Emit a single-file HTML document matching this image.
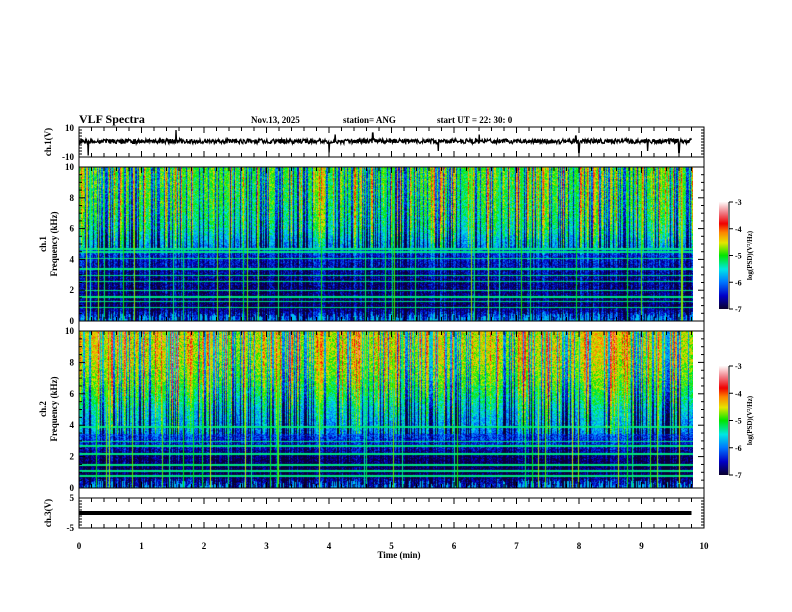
<!DOCTYPE html>
<html><head><meta charset="utf-8">
<style>
body{margin:0;background:#fff;width:792px;height:612px;overflow:hidden;position:relative;font-family:"Liberation Serif",serif;}
canvas{position:absolute;}
svg{position:absolute;left:0;top:0;}
</style></head>
<body>
<canvas id="spec1" width="614" height="154" style="left:79px;top:167px"></canvas>
<canvas id="spec2" width="614" height="157" style="left:79px;top:331px"></canvas>
<canvas id="cb1" width="9" height="107" style="left:719px;top:202px"></canvas>
<canvas id="cb2" width="9" height="109" style="left:719px;top:366px"></canvas>
<svg id="ov" width="792" height="612"></svg>
<script>
// ---- data ----
const timeRange = [0, 10];
const dataEnd = 9.8;
const xTicks = [0,1,2,3,4,5,6,7,8,9,10];
const freqTicks = [0,2,4,6,8,10];
// background log PSD per kHz (0..10)
const levelCh1 = [-6.3,-6.9,-6.8,-6.7,-6.5,-6.1,-5.6,-5.4,-5.3,-5.2,-5.2];
const levelCh2 = [-6.6,-7.0,-6.9,-6.4,-6.1,-5.8,-5.4,-5.1,-4.9,-4.8,-4.8];
// activity per 0.2 min (50 bins)
const activity = [0.3,0.4,0.2,0.3,0.1,0.2,0.3,0.4,0.2,0.1,0.3,0.2,0.0,0.1,0.2,0.3,0.1,0.0,0.2,0.3,0.1,0.2,0.3,0.2,0.1,0.0,0.1,0.3,0.4,0.2,0.1,0.2,0.3,0.2,0.0,0.1,0.2,0.3,0.2,0.1,0.3,0.4,0.3,0.2,0.1,0.2,0.3,0.1,0.2,0.1];
// persistent narrowband lines (kHz)
const linesCh1 = [4.7,4.5,4.1,3.4,3.0,2.6,2.0,1.6,1.3,0.9];
const linesCh2 = [3.9,3.0,2.7,2.2,1.5,1.1,0.8];
// ch1 waveform spikes: [time(min), amplitude(V)]
const spikesCh1 = [[0.15,-9],[1.55,8],[4.0,-7],[4.1,5],[4.7,6],[5.75,-6],[6.4,5],[7.95,4],[8.0,-7],[9.1,-6],[9.6,-7]];
const ch1Base = 0.5;
const ch3Level = 0;
const cbMin=-7, cbMax=-3;

// ---- helpers ----
const X0=79,X1=704;
const xs=t=>X0+(t-timeRange[0])/(timeRange[1]-timeRange[0])*(X1-X0);
function hash(a,b){let h=(a*374761393+b*668265263)|0;h=(h^(h>>>13))*1274126177|0;return ((h^(h>>>16))>>>0)/4294967296;}
function jet(v){
 let u=(v-cbMin)/(cbMax-cbMin);u=Math.max(0,Math.min(1,u));
 const stops=[[0,10,0,50],[0.12,0,0,200],[0.25,0,120,255],[0.37,0,230,230],[0.5,0,230,0],[0.62,230,230,0],[0.72,255,130,0],[0.8,240,0,0],[0.9,240,120,130],[1,255,245,245]];
 for(let i=1;i<stops.length;i++){if(u<=stops[i][0]){const a=stops[i-1],b=stops[i],f=(u-a[0])/(b[0]-a[0]);return [a[1]+(b[1]-a[1])*f,a[2]+(b[2]-a[2])*f,a[3]+(b[3]-a[3])*f];}}
 return [255,245,245];
}
function drawSpec(id,levels,lines,seed,hi){
 const c=document.getElementById(id),ctx=c.getContext('2d'),W=c.width,H=c.height;
 const img=ctx.createImageData(W,H);
 for(let x=0;x<W;x++){
  const t=x/(X1-X0)*10;const act=activity[Math.min(49,Math.floor(t/0.2))];
  const r=hash(x,seed);let colBoost=0;
  if(r<0.28)colBoost=-1.2; else if(r>0.9)colBoost=0.9; else if(r>0.78)colBoost=0.45;
  const lineCol=hash(x,seed+7)>0.94;
  for(let y=0;y<H;y++){
   const f=(1-y/H)*10;const i=Math.min(9,Math.floor(f)),fr=f-i;
   let v=levels[i]*(1-fr)+levels[i+1]*fr;
   const w=f>hi?1:(f<0.6?0.6:0.35);
   v+=(act+colBoost)*w+(hash(x*131+y,seed+3)-0.5)*0.8;
   if(lineCol)v=Math.max(v,-5.4+hash(x,seed+9)*0.8);
   for(const L of lines){if(Math.abs(f-L)<0.05)v=Math.max(v,-5.3);}
   if(f<0.5&&hash(x,seed+11)>0.6&&f<hash(x,seed+12)*0.6)v=Math.max(v,-5.7);
   const [R,G,B]=jet(v);const k=(y*W+x)*4;img.data[k]=R;img.data[k+1]=G;img.data[k+2]=B;img.data[k+3]=255;
  }
 }
 ctx.putImageData(img,0,0);
}
drawSpec('spec1',levelCh1,linesCh1,1,4.8);
drawSpec('spec2',levelCh2,linesCh2,2,3.5);
['cb1','cb2'].forEach(id=>{const c=document.getElementById(id),ctx=c.getContext('2d');for(let y=0;y<c.height;y++){const v=cbMax-(y/(c.height-1))*(cbMax-cbMin);const [r,g,b]=jet(v);ctx.fillStyle=`rgb(${r|0},${g|0},${b|0})`;ctx.fillRect(0,y,c.width,1);}});

// ---- SVG overlay ----
const NS='http://www.w3.org/2000/svg',ov=document.getElementById('ov');
function el(tag,attrs,parent){const e=document.createElementNS(NS,tag);for(const k in attrs)e.setAttribute(k,attrs[k]);(parent||ov).appendChild(e);return e;}
function txt(s,x,y,size,anchor,name,rot){const e=el('text',{x:x,y:y,'font-size':size,'font-weight':'bold','text-anchor':anchor||'start','font-family':'Liberation Serif, serif'});if(rot)e.setAttribute('transform',`rotate(-90 ${x} ${y})`);e.textContent=s;return e;}
const panels=[{n:'ch1-panel',t:127,b:157},{n:'spec1-panel',t:167,b:321},{n:'spec2-panel',t:331,b:488},{n:'ch3-panel',t:498,b:528}];
panels.forEach(p=>{
 const r=el('rect',{x:X0,y:p.t,width:X1-X0,height:p.b-p.t,fill:'none',stroke:'#000','stroke-width':1});
 
 for(let t=0;t<=10.001;t+=0.2){const x=xs(t),maj=Math.abs(t-Math.round(t))<0.01,L=maj?6:4;
  el('line',{x1:x,y1:p.t,x2:x,y2:p.t+L,stroke:'#000'});el('line',{x1:x,y1:p.b,x2:x,y2:p.b-L,stroke:'#000'});}
});
[[157,167],[321,331],[488,498]].forEach(([a,b])=>{el('line',{x1:X0,y1:a,x2:X0,y2:b,stroke:'#000'});el('line',{x1:X1,y1:a,x2:X1,y2:b,stroke:'#000'});});
[[167,321],[331,488]].forEach(([t,b],k)=>{
 for(let f=0;f<=10;f+=0.5){const y=b-(f/10)*(b-t),maj=f%2===0;const L=maj?6:3;
  el('line',{x1:X0,y1:y,x2:X0+L,y2:y,stroke:'#000'});el('line',{x1:X1,y1:y,x2:X1-L,y2:y,stroke:'#000'});}
 freqTicks.forEach(f=>txt(String(f),74,b-(f/10)*(b-t)+3,9,'end','freq-tick-'+f));
});
const ch1y=v=>127+(10-v)/20*30;
txt('10',74,131,9,'end','ch1-tick-10');txt('-10',74,160,9,'end','ch1-tick-neg10');
const ch3y=v=>498+(5-v)/10*30;
txt('5',74,501,9,'end','ch3-tick-5');txt('-5',74,531,9,'end','ch3-tick-neg5');
[[ch1y,10],[ch3y,5]].forEach(([f,m])=>{for(let v=m;v>=-m;v-=m/5){const y=f(v);el('line',{x1:X0,y1:y,x2:X0+3,y2:y,stroke:'#000'});el('line',{x1:X1,y1:y,x2:X1-3,y2:y,stroke:'#000'});}});
let d='';const N=1200;
for(let i=0;i<=N;i++){const t=i/N*dataEnd;let v=ch1Base+(hash(i,77)-0.5)*3.2;
 for(const [st,a] of spikesCh1){if(Math.abs(t-st)<dataEnd/N*0.6)v=a;}
 d+=(i?'L':'M')+xs(t).toFixed(1)+' '+ch1y(v).toFixed(1);}
const tr=el('path',{d:d,stroke:'#000','stroke-width':1.3,fill:'none'});

const l3=el('line',{x1:xs(0),y1:ch3y(ch3Level),x2:xs(dataEnd),y2:ch3y(ch3Level),stroke:'#000','stroke-width':4});

xTicks.forEach(t=>txt(String(t),xs(t),549,9,'middle','time-tick-'+t));
txt('Time  (min)',399,558,9,'middle','x-axis-title');
txt('VLF Spectra',79,123,12,'start','chart-title');
txt('Nov.13, 2025',251,123,9,'start','date-label');
txt('station= ANG',343,123,9,'start','station-label');
txt('start  UT =   22: 30: 0',437,123,9,'start','start-time-label');
txt('ch.1(V)',51,142,9,'middle','ch1-y-title',true);
txt('ch.1',46,244,9,'middle','spec1-y-title-ch',true);
txt('Frequency  (kHz)',57,244,9,'middle','spec1-y-title',true);
txt('ch.2',46,409,9,'middle','spec2-y-title-ch',true);
txt('Frequency  (kHz)',57,409,9,'middle','spec2-y-title',true);
txt('ch.3(V)',51,513,9,'middle','ch3-y-title',true);
[[202,309,'cb1'],[366,475,'cb2']].forEach(([t,b,n])=>{
 el('line',{x1:729,y1:t,x2:729,y2:b,stroke:'#000'});
 for(let v=-3;v>=-7;v--){const y=t+(-3-v)/4*(b-t);el('line',{x1:729,y1:y,x2:733,y2:y,stroke:'#000'});txt(String(v),735,y+3,8,'start',n+'-tick'+v);}
 txt('log(PSD)(V²/Hz)',752,(t+b)/2,7,'middle',n+'-title',true);
});
</script>
</body></html>
